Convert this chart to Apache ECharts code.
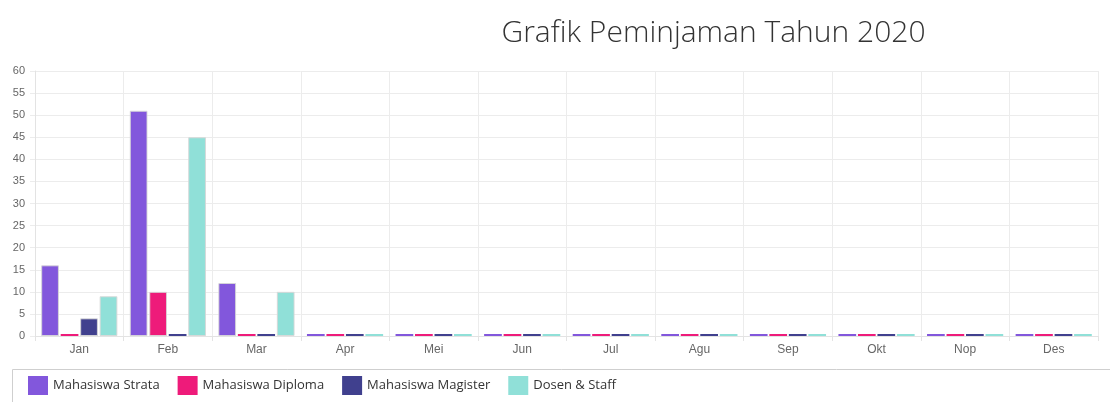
<!DOCTYPE html>
<html>
<head>
<meta charset="utf-8">
<script src="https://cdn.jsdelivr.net/npm/echarts@6/dist/echarts.min.js"></script>
<style>
html,body{margin:0;padding:0;background:#fff;}
#chart{width:1110px;height:402px;}
</style>
</head>
<body>
<div id="chart"></div>
<script>
const months = ['Jan','Feb','Mar','Apr','Mei','Jun','Jul','Agu','Sep','Okt','Nop','Des'];
const strata   = [16,51,12,0,0,0,0,0,0,0,0,0];
const diploma  = [0,10,0,0,0,0,0,0,0,0,0,0];
const magister = [4,0,0,0,0,0,0,0,0,0,0,0];
const dosen    = [9,45,10,0,0,0,0,0,0,0,0,0];
const seriesNames = ['Mahasiswa Strata','Mahasiswa Diploma','Mahasiswa Magister','Dosen & Staff'];
const seriesData = [strata, diploma, magister, dosen];
const colors = ['#8257DC','#EE1B7A','#40408E','#90E0D8'];

const chart = echarts.init(document.getElementById('chart'));
chart.setOption({
  animation: false,
  color: colors,
  title: {
    text: 'Grafik Peminjaman Tahun 2020',
    left: 708.5,
    top: 13,
    textAlign: 'center',
    textStyle: {fontFamily: 'Open Sans', fontWeight: 300, fontSize: 30, color: '#333'}
  },
  graphic: [{
    type: 'rect',
    shape: {x: 12.5, y: 369.5, width: 1120, height: 60},
    style: {fill: 'none', stroke: '#cfcfcf', lineWidth: 1},
    silent: true, z: -1
  }],
  legend: {
    left: 28,
    top: 376,
    padding: 0,
    itemWidth: 20,
    itemHeight: 19,
    itemGap: 18,
    icon: 'rect',
    itemStyle: {borderWidth: 0},
    textStyle: {fontFamily: 'Open Sans', fontSize: 13, color: '#333', padding: [3, 0, 0, 0]},
    data: seriesNames
  },
  grid: {left: 35, right: 12, top: 71, bottom: 66, containLabel: false},
  xAxis: {
    type: 'category',
    data: months,
    axisLine: {lineStyle: {color: '#e3e3e3'}},
    axisTick: {show: true, length: 5, lineStyle: {color: '#e3e3e3'}},
    splitLine: {show: true, lineStyle: {color: '#ececec'}},
    axisLabel: {fontFamily: 'Liberation Sans', fontSize: 12, color: '#666', margin: 8}
  },
  yAxis: {
    type: 'value',
    min: 0, max: 60, interval: 5,
    axisLine: {show: true, lineStyle: {color: '#e3e3e3'}},
    axisTick: {show: true, length: 5, lineStyle: {color: '#ececec'}},
    splitLine: {show: true, lineStyle: {color: '#ececec'}},
    axisLabel: {fontFamily: 'Liberation Sans', fontSize: 11, color: '#666', margin: 10}
  },
  series: seriesNames.map((n, i) => ({
    name: n,
    type: 'bar',
    data: seriesData[i].map(v => v === 0 ? {value: v, itemStyle: {borderWidth: 0}} : v),
    barCategoryGap: '14%',
    barGap: '10%',
    barMinHeight: 2,
    itemStyle: {color: colors[i], borderColor: 'rgba(215,215,215,0.9)', borderWidth: 1}
  }))
});
</script>
</body>
</html>
